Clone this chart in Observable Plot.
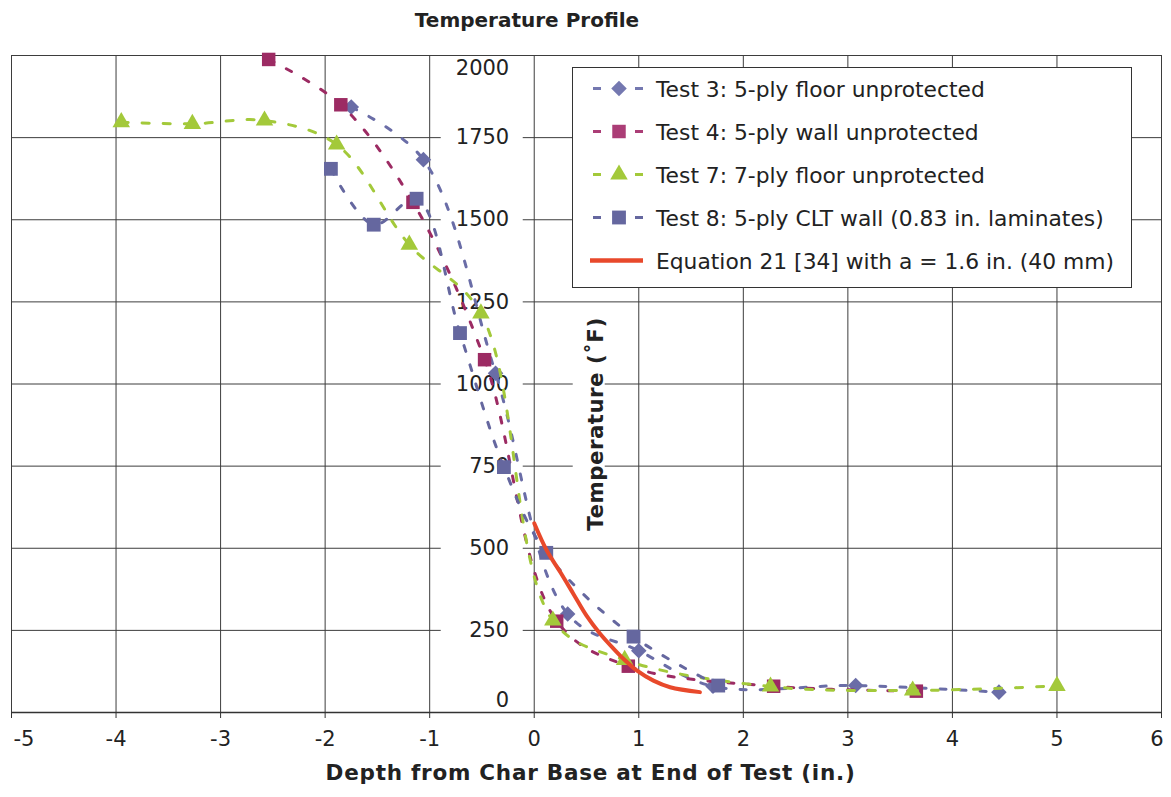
<!DOCTYPE html>
<html>
<head>
<meta charset="utf-8">
<script src="https://cdn.jsdelivr.net/npm/d3@7"></script>
<script src="https://cdn.jsdelivr.net/npm/@observablehq/plot@0.6"></script>
<style>
  body { margin: 0; background: #fff; }
  #wrap { position: relative; width: 1171px; height: 797px; font-family: "DejaVu Sans", Verdana, sans-serif; color: #222; }
  #title { position: absolute; left: 0; top: 10px; width: 1054px; text-align: center; font-weight: bold; font-size: 20px; line-height: 20px; color: #222; }
  #chart { position: absolute; left: 0; top: 40px; }
  #legend { position: absolute; left: 572px; top: 67px; }
</style>
</head>
<body>
<div id="wrap">
  <div id="title"></div>
  <div id="chart"></div>
  <div id="legend"></div>
</div>
<script>
// ---------- data ----------
const titleText = "Temperature Profile";
const xLabel = "Depth from Char Base at End of Test (in.)";
const yLabel = "Temperature (˚F)";
const xTicks = [-5, -4, -3, -2, -1, 0, 1, 2, 3, 4, 5, 6];
const yTicks = [0, 250, 500, 750, 1000, 1250, 1500, 1750, 2000];
const legendLabels = [
  "Test 3: 5-ply floor unprotected",
  "Test 4: 5-ply wall unprotected",
  "Test 7: 7-ply floor unprotected",
  "Test 8: 5-ply CLT wall (0.83 in. laminates)",
  "Equation 21 [34] with a = 1.6 in. (40 mm)"
];

const test3X = [-1.75, -1.06, -0.37, 0.32, 1.00, 1.71, 3.075, 4.445];
const test3Y = [1843, 1683, 1033, 300, 188, 80, 82, 62];

const test4X = [-2.54, -1.85, -1.16, -0.475, 0.215, 0.90, 2.29, 3.655];
const test4Y = [1988, 1850, 1553, 1074, 278, 141, 80, 65];

const test7X = [-3.95, -3.27, -2.58, -1.89, -1.195, -0.51, 0.178, 0.865, 2.26, 3.62, 5.0];
const test7Y = [1797, 1792, 1802, 1729, 1424, 1215, 280, 160, 79, 67, 81];

const test8X = [-1.945, -1.535, -1.125, -0.71, -0.29, 0.115, 0.95, 1.76];
const test8Y = [1655, 1485, 1564, 1155, 747, 486, 231, 82];

const eqX = [0, 0.12, 0.25, 0.375, 0.50, 0.63, 0.76, 0.865, 0.98, 1.14, 1.30, 1.585];
const eqY = [576, 493, 427, 361, 295, 240, 194, 160, 128, 97, 77, 62];

// ---------- styles ----------
const seriesStyle = [
  {color: "#6a6da7", legendColor: "#7478b0", symbol: "diamond2", r: 7.0, dash: "6,14"},
  {color: "#9c2b63", legendColor: "#ab3d76", symbol: "square", r: 7.6, dash: "6,14"},
  {color: "#a3c93a", legendColor: "#a3c93a", symbol: "triangle", r: 6.5, dash: "7,14"},
  {color: "#65679f", legendColor: "#65679f", symbol: "square", r: 7.8, dash: "6,14"},
  {color: "#e8492b", legendColor: "#e8492b", width: 4}
];
const seriesXs = [test3X, test4X, test7X, test8X, eqX];
const seriesYs = [test3Y, test4Y, test7Y, test8Y, eqY];

const series = seriesXs.map((xs, k) => ({
  name: legendLabels[k],
  style: seriesStyle[k],
  rows: xs.map((x, i) => ({x, y: seriesYs[k][i]}))
}));

document.getElementById("title").textContent = titleText;

const gridColor = "#3d3d3d";
const yMid = yTicks.filter(v => v > 0 && v < 2000);
const yTop = yTicks.filter(v => v === 2000);
const yBottom = yTicks.filter(v => v === 0);

const dataMarks = [];
series.forEach(s => {
  const st = s.style;
  if (st.symbol) {
    dataMarks.push(Plot.line(s.rows, {x: "x", y: "y", stroke: st.color, strokeWidth: 3, strokeDasharray: st.dash, curve: "catmull-rom"}));
    dataMarks.push(Plot.dot(s.rows, {x: "x", y: "y", symbol: st.symbol, r: st.r, fill: st.color, stroke: "none"}));
  } else {
    dataMarks.push(Plot.line(s.rows, {x: "x", y: "y", stroke: st.color, strokeWidth: st.width, curve: "catmull-rom"}));
  }
});

const plot = Plot.plot({
  width: 1171,
  height: 757,
  marginLeft: 11,
  marginRight: 10,
  marginTop: 15,
  marginBottom: 85,
  style: {fontFamily: "DejaVu Sans, Verdana, sans-serif", fontSize: "21px", color: "#222", background: "white"},
  x: {domain: [-5, 6]},
  y: {domain: [0, 2000], axis: null},
  marks: [
    Plot.gridX(xTicks, {stroke: gridColor, strokeOpacity: 1, strokeWidth: 1}),
    Plot.gridY(yTicks, {stroke: gridColor, strokeOpacity: 1, strokeWidth: 1}),
    Plot.frame({stroke: gridColor, strokeWidth: 1}),
    Plot.ruleY([0], {stroke: "#333", strokeWidth: 1.6}),
    Plot.axisX(xTicks, {tickFormat: d => String(d), tickSize: 6, tickPadding: 13, label: null, stroke: "#333"}),
    Plot.text(yMid, {x: () => 0, y: d => d, text: d => String(d), textAnchor: "end", dx: -25, fill: "#222"}),
    Plot.text(yTop, {x: () => 0, y: d => d, text: d => String(d), textAnchor: "end", dx: -25, dy: 13, fill: "#222"}),
    Plot.text(yBottom, {x: () => 0, y: d => d, text: d => String(d), textAnchor: "end", dx: -25, dy: -12, fill: "#222"}),
    Plot.text([yLabel], {x: () => 0, text: d => d, rotate: -90, dx: 62, dy: 40, fontWeight: "bold", fontSize: 21.3, fill: "#222"}),
    Plot.text([xLabel], {frameAnchor: "bottom", text: d => d, dy: 67, dx: 4, fontWeight: "bold", fontSize: 21.5, fill: "#222"}),
    ...dataMarks
  ]
});
document.getElementById("chart").appendChild(plot);

// white label boxes that interrupt gridlines (as in the original), spacing and edge label nudges
(function () {
  const ns = "http://www.w3.org/2000/svg";
  const xs = plot.scale("x"), ys = plot.scale("y");
  const x0 = xs.apply(0);
  const texts = Array.from(plot.querySelectorAll("text"));
  const midStrings = yMid.map(String);
  const tickTexts = texts.filter(t => midStrings.includes(t.textContent));
  if (tickTexts.length) {
    const g = tickTexts[0].parentNode;
    yMid.forEach(v => {
      const r = document.createElementNS(ns, "rect");
      r.setAttribute("x", x0 - 93);
      r.setAttribute("width", 82);
      r.setAttribute("y", ys.apply(v) - 12);
      r.setAttribute("height", 24);
      r.setAttribute("fill", "white");
      g.parentNode.insertBefore(r, g);
    });
  }
  const titleT = texts.find(t => t.textContent === yLabel);
  if (titleT) {
    titleT.style.letterSpacing = "0.5px";
    const g = titleT.parentNode;
    const cy = (ys.apply(0) + ys.apply(2000)) / 2 + 40;
    const r = document.createElementNS(ns, "rect");
    r.setAttribute("x", x0 + 39);
    r.setAttribute("width", 32);
    r.setAttribute("y", cy - 108);
    r.setAttribute("height", 216);
    r.setAttribute("fill", "white");
    g.parentNode.insertBefore(r, g);
  }
  const xl = texts.find(t => t.textContent === xLabel);
  if (xl) xl.style.letterSpacing = "0.75px";
  // keep the end tick labels inside the picture
  const first = texts.find(t => t.textContent === String(xTicks[0]));
  if (first) { first.setAttribute("text-anchor", "start"); first.setAttribute("dx", "2"); }
  const last = texts.find(t => t.textContent === String(xTicks[xTicks.length - 1]));
  if (last) { last.setAttribute("text-anchor", "end"); last.setAttribute("dx", "2"); }
})();

// ---------- legend ----------
(function () {
  const W = 560, H = 221;
  const svg = d3.select("#legend").append("svg").attr("width", W).attr("height", H)
    .style("font-family", "DejaVu Sans, Verdana, sans-serif");
  svg.append("rect").attr("x", 0.5).attr("y", 0.5).attr("width", W - 1).attr("height", H - 1)
    .attr("fill", "white").attr("stroke", "#333").attr("stroke-width", 1);
  const symMap = {diamond2: d3.symbolDiamond2, square: d3.symbolSquare, triangle: d3.symbolTriangle};
  series.forEach((s, i) => {
    const cy = 21.5 + i * 43;
    const g = svg.append("g");
    const st = s.style;
    if (st.symbol) {
      g.append("line").attr("x1", 21).attr("x2", 29).attr("y1", cy).attr("y2", cy)
        .attr("stroke", st.legendColor).attr("stroke-width", 3);
      g.append("line").attr("x1", 63).attr("x2", 71).attr("y1", cy).attr("y2", cy)
        .attr("stroke", st.legendColor).attr("stroke-width", 3);
      g.append("path").attr("transform", `translate(47,${cy})`)
        .attr("d", d3.symbol(symMap[st.symbol], Math.PI * st.r * st.r)())
        .attr("fill", st.legendColor);
    } else {
      g.append("line").attr("x1", 18).attr("x2", 71).attr("y1", cy).attr("y2", cy)
        .attr("stroke", st.legendColor).attr("stroke-width", 4.5);
    }
    g.append("text").attr("x", 84).attr("y", cy + 8).attr("font-size", 21.8).attr("fill", "#222").text(s.name);
  });
})();
</script>
</body>
</html>
